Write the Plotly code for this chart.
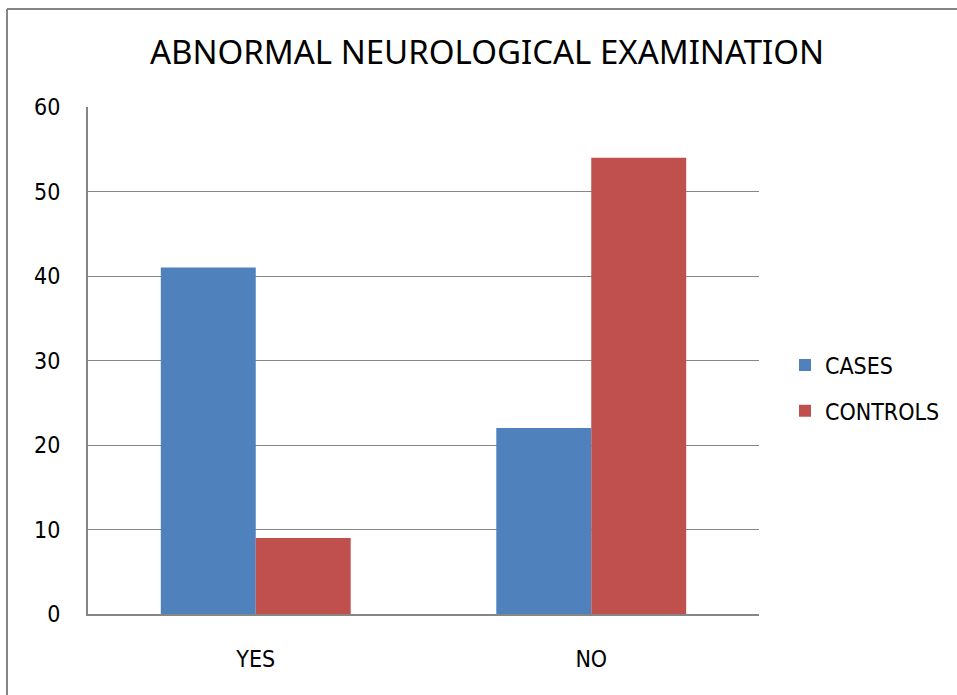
import plotly.graph_objects as go

categories = ["YES", "NO"]
cases = [41, 22]
controls = [9, 54]
tick_vals = [0, 10, 20, 30, 40, 50, 60]

FONT = "DejaVu Sans Condensed, Liberation Sans Narrow, sans-serif"
TITLE_FONT = "Noto Sans, Open Sans, sans-serif"
GRID = "#868686"

fig = go.Figure()
fig.add_trace(go.Bar(name="CASES", x=categories, y=cases,
                     marker=dict(color="#4F81BD", line=dict(width=0)),
                     legendgroup="a"))
fig.add_trace(go.Bar(name="CONTROLS", x=categories, y=controls,
                     marker=dict(color="#C0504D", line=dict(width=0)),
                     legendgroup="b"))

L, R, T, B = 88, 198, 107, 81
W, H = 957, 695
pw, ph = W - L - R, H - T - B

# outer frame: left and top edges of the chart box
fig.add_shape(type="line", xref="paper", yref="paper",
              x0=(7 - L) / pw, x1=(7 - L) / pw,
              y0=(T + ph - H - 5) / ph, y1=1 + (T - 9) / ph,
              line=dict(color=GRID, width=2))
fig.add_shape(type="line", xref="paper", yref="paper",
              x0=(7 - L) / pw, x1=(W + 5 - L) / pw,
              y0=1 + (T - 9) / ph, y1=1 + (T - 9) / ph,
              line=dict(color=GRID, width=2))

fig.update_layout(
    width=W, height=H,
    margin=dict(l=L, r=R, t=T, b=B, autoexpand=False),
    paper_bgcolor="white", plot_bgcolor="white",
    font=dict(family=FONT, size=23, color="black"),
    title=dict(text="ABNORMAL NEUROLOGICAL EXAMINATION",
               x=487 / W, xanchor="center",
               y=1 - 52 / H, yanchor="middle",
               font=dict(family=TITLE_FONT, size=33, color="black")),
    barmode="group", bargap=0.434, bargroupgap=0,
    showlegend=True,
    legend=dict(x=(785 - L) / pw, xanchor="left",
                y=(T + ph - 388) / ph, yanchor="middle",
                font=dict(family=FONT, size=23, color="black"),
                tracegroupgap=13, itemwidth=30,
                bgcolor="rgba(0,0,0,0)"),
    xaxis=dict(showgrid=False, showline=True, linecolor=GRID, linewidth=2,
               ticks="", ticklabelstandoff=23,
               tickfont=dict(family=FONT, size=23, color="black")),
    yaxis=dict(range=[0, 60], tickvals=tick_vals, showgrid=True,
               gridcolor=GRID, gridwidth=1, showline=True, linecolor=GRID,
               linewidth=2, ticks="", ticklabelstandoff=21, zeroline=False,
               tickfont=dict(family=FONT, size=23, color="black")),
)

fig.write_html("out.html")
